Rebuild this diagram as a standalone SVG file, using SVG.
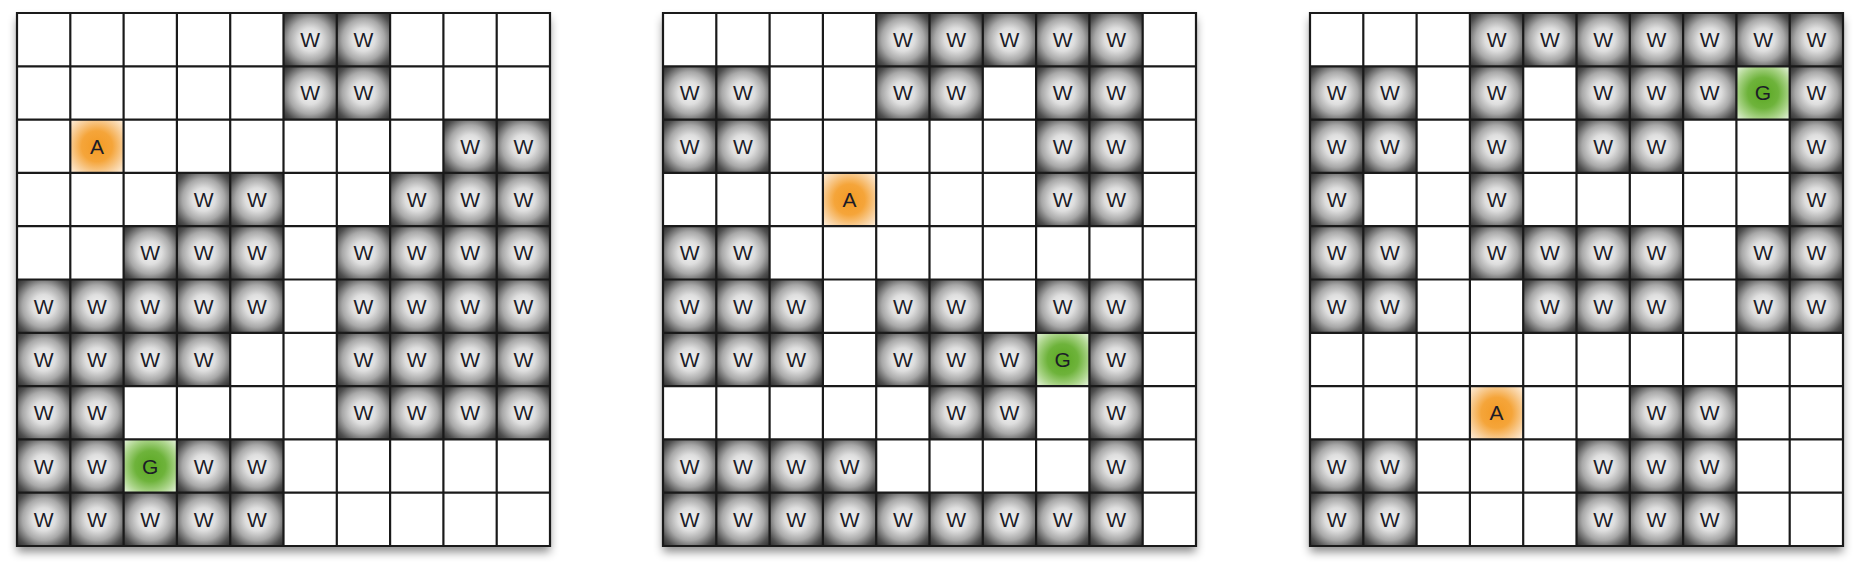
<svg xmlns="http://www.w3.org/2000/svg" width="1865" height="574" viewBox="0 0 1865 574">
<defs>
<radialGradient id="gw" cx="50%" cy="50%" r="72%">
<stop offset="0" stop-color="#f6f6f6"/>
<stop offset="0.3" stop-color="#dedede"/>
<stop offset="0.55" stop-color="#a8a8a8"/>
<stop offset="0.8" stop-color="#505050"/>
<stop offset="1" stop-color="#262626"/>
</radialGradient>
<radialGradient id="ga" cx="50%" cy="50%" r="72%">
<stop offset="0" stop-color="#f39a24"/>
<stop offset="0.4" stop-color="#f5a53a"/>
<stop offset="0.7" stop-color="#f8cd96"/>
<stop offset="1" stop-color="#fff4e8"/>
</radialGradient>
<radialGradient id="gg" cx="50%" cy="50%" r="72%">
<stop offset="0" stop-color="#5ba822"/>
<stop offset="0.4" stop-color="#6eb33b"/>
<stop offset="0.7" stop-color="#acd58b"/>
<stop offset="1" stop-color="#eef7e8"/>
</radialGradient>
<filter id="sh" x="-10%" y="-10%" width="120%" height="125%">
<feDropShadow dx="0" dy="6" stdDeviation="5" flood-color="#000" flood-opacity="0.45"/>
</filter>
<path id="lines" d="M0 0V533M53.3 0V533M106.6 0V533M159.9 0V533M213.2 0V533M266.5 0V533M319.8 0V533M373.1 0V533M426.4 0V533M479.7 0V533M533 0V533M0 0H533M0 53.3H533M0 106.6H533M0 159.9H533M0 213.2H533M0 266.5H533M0 319.8H533M0 373.1H533M0 426.4H533M0 479.7H533M0 533H533"/>
</defs>
<style>
.bg{fill:#fff;filter:url(#sh)}
.w rect{fill:url(#gw)}
.a rect{fill:url(#ga)}
.g rect{fill:url(#gg)}
.c text{font-family:"Liberation Sans",Arial,sans-serif;font-size:21px;fill:#1c1c28;text-anchor:middle}
.grid{fill:none;stroke:#1a1a1a;stroke-width:2.2;stroke-linecap:square}
</style>

<g id="grid1" transform="translate(17 13)">
<rect class="bg" width="533" height="533"/>
<g id="g1-r0c5" class="c w" transform="translate(266.5 0)"><rect width="53.3" height="53.3"/><text x="26.65" y="34.2">W</text></g>
<g id="g1-r0c6" class="c w" transform="translate(319.8 0)"><rect width="53.3" height="53.3"/><text x="26.65" y="34.2">W</text></g>
<g id="g1-r1c5" class="c w" transform="translate(266.5 53.3)"><rect width="53.3" height="53.3"/><text x="26.65" y="34.2">W</text></g>
<g id="g1-r1c6" class="c w" transform="translate(319.8 53.3)"><rect width="53.3" height="53.3"/><text x="26.65" y="34.2">W</text></g>
<g id="g1-agent" class="c a" transform="translate(53.3 106.6)"><rect width="53.3" height="53.3"/><text x="26.65" y="34.2">A</text></g>
<g id="g1-r2c8" class="c w" transform="translate(426.4 106.6)"><rect width="53.3" height="53.3"/><text x="26.65" y="34.2">W</text></g>
<g id="g1-r2c9" class="c w" transform="translate(479.7 106.6)"><rect width="53.3" height="53.3"/><text x="26.65" y="34.2">W</text></g>
<g id="g1-r3c3" class="c w" transform="translate(159.9 159.9)"><rect width="53.3" height="53.3"/><text x="26.65" y="34.2">W</text></g>
<g id="g1-r3c4" class="c w" transform="translate(213.2 159.9)"><rect width="53.3" height="53.3"/><text x="26.65" y="34.2">W</text></g>
<g id="g1-r3c7" class="c w" transform="translate(373.1 159.9)"><rect width="53.3" height="53.3"/><text x="26.65" y="34.2">W</text></g>
<g id="g1-r3c8" class="c w" transform="translate(426.4 159.9)"><rect width="53.3" height="53.3"/><text x="26.65" y="34.2">W</text></g>
<g id="g1-r3c9" class="c w" transform="translate(479.7 159.9)"><rect width="53.3" height="53.3"/><text x="26.65" y="34.2">W</text></g>
<g id="g1-r4c2" class="c w" transform="translate(106.6 213.2)"><rect width="53.3" height="53.3"/><text x="26.65" y="34.2">W</text></g>
<g id="g1-r4c3" class="c w" transform="translate(159.9 213.2)"><rect width="53.3" height="53.3"/><text x="26.65" y="34.2">W</text></g>
<g id="g1-r4c4" class="c w" transform="translate(213.2 213.2)"><rect width="53.3" height="53.3"/><text x="26.65" y="34.2">W</text></g>
<g id="g1-r4c6" class="c w" transform="translate(319.8 213.2)"><rect width="53.3" height="53.3"/><text x="26.65" y="34.2">W</text></g>
<g id="g1-r4c7" class="c w" transform="translate(373.1 213.2)"><rect width="53.3" height="53.3"/><text x="26.65" y="34.2">W</text></g>
<g id="g1-r4c8" class="c w" transform="translate(426.4 213.2)"><rect width="53.3" height="53.3"/><text x="26.65" y="34.2">W</text></g>
<g id="g1-r4c9" class="c w" transform="translate(479.7 213.2)"><rect width="53.3" height="53.3"/><text x="26.65" y="34.2">W</text></g>
<g id="g1-r5c0" class="c w" transform="translate(0 266.5)"><rect width="53.3" height="53.3"/><text x="26.65" y="34.2">W</text></g>
<g id="g1-r5c1" class="c w" transform="translate(53.3 266.5)"><rect width="53.3" height="53.3"/><text x="26.65" y="34.2">W</text></g>
<g id="g1-r5c2" class="c w" transform="translate(106.6 266.5)"><rect width="53.3" height="53.3"/><text x="26.65" y="34.2">W</text></g>
<g id="g1-r5c3" class="c w" transform="translate(159.9 266.5)"><rect width="53.3" height="53.3"/><text x="26.65" y="34.2">W</text></g>
<g id="g1-r5c4" class="c w" transform="translate(213.2 266.5)"><rect width="53.3" height="53.3"/><text x="26.65" y="34.2">W</text></g>
<g id="g1-r5c6" class="c w" transform="translate(319.8 266.5)"><rect width="53.3" height="53.3"/><text x="26.65" y="34.2">W</text></g>
<g id="g1-r5c7" class="c w" transform="translate(373.1 266.5)"><rect width="53.3" height="53.3"/><text x="26.65" y="34.2">W</text></g>
<g id="g1-r5c8" class="c w" transform="translate(426.4 266.5)"><rect width="53.3" height="53.3"/><text x="26.65" y="34.2">W</text></g>
<g id="g1-r5c9" class="c w" transform="translate(479.7 266.5)"><rect width="53.3" height="53.3"/><text x="26.65" y="34.2">W</text></g>
<g id="g1-r6c0" class="c w" transform="translate(0 319.8)"><rect width="53.3" height="53.3"/><text x="26.65" y="34.2">W</text></g>
<g id="g1-r6c1" class="c w" transform="translate(53.3 319.8)"><rect width="53.3" height="53.3"/><text x="26.65" y="34.2">W</text></g>
<g id="g1-r6c2" class="c w" transform="translate(106.6 319.8)"><rect width="53.3" height="53.3"/><text x="26.65" y="34.2">W</text></g>
<g id="g1-r6c3" class="c w" transform="translate(159.9 319.8)"><rect width="53.3" height="53.3"/><text x="26.65" y="34.2">W</text></g>
<g id="g1-r6c6" class="c w" transform="translate(319.8 319.8)"><rect width="53.3" height="53.3"/><text x="26.65" y="34.2">W</text></g>
<g id="g1-r6c7" class="c w" transform="translate(373.1 319.8)"><rect width="53.3" height="53.3"/><text x="26.65" y="34.2">W</text></g>
<g id="g1-r6c8" class="c w" transform="translate(426.4 319.8)"><rect width="53.3" height="53.3"/><text x="26.65" y="34.2">W</text></g>
<g id="g1-r6c9" class="c w" transform="translate(479.7 319.8)"><rect width="53.3" height="53.3"/><text x="26.65" y="34.2">W</text></g>
<g id="g1-r7c0" class="c w" transform="translate(0 373.1)"><rect width="53.3" height="53.3"/><text x="26.65" y="34.2">W</text></g>
<g id="g1-r7c1" class="c w" transform="translate(53.3 373.1)"><rect width="53.3" height="53.3"/><text x="26.65" y="34.2">W</text></g>
<g id="g1-r7c6" class="c w" transform="translate(319.8 373.1)"><rect width="53.3" height="53.3"/><text x="26.65" y="34.2">W</text></g>
<g id="g1-r7c7" class="c w" transform="translate(373.1 373.1)"><rect width="53.3" height="53.3"/><text x="26.65" y="34.2">W</text></g>
<g id="g1-r7c8" class="c w" transform="translate(426.4 373.1)"><rect width="53.3" height="53.3"/><text x="26.65" y="34.2">W</text></g>
<g id="g1-r7c9" class="c w" transform="translate(479.7 373.1)"><rect width="53.3" height="53.3"/><text x="26.65" y="34.2">W</text></g>
<g id="g1-r8c0" class="c w" transform="translate(0 426.4)"><rect width="53.3" height="53.3"/><text x="26.65" y="34.2">W</text></g>
<g id="g1-r8c1" class="c w" transform="translate(53.3 426.4)"><rect width="53.3" height="53.3"/><text x="26.65" y="34.2">W</text></g>
<g id="g1-goal" class="c g" transform="translate(106.6 426.4)"><rect width="53.3" height="53.3"/><text x="26.65" y="34.2">G</text></g>
<g id="g1-r8c3" class="c w" transform="translate(159.9 426.4)"><rect width="53.3" height="53.3"/><text x="26.65" y="34.2">W</text></g>
<g id="g1-r8c4" class="c w" transform="translate(213.2 426.4)"><rect width="53.3" height="53.3"/><text x="26.65" y="34.2">W</text></g>
<g id="g1-r9c0" class="c w" transform="translate(0 479.7)"><rect width="53.3" height="53.3"/><text x="26.65" y="34.2">W</text></g>
<g id="g1-r9c1" class="c w" transform="translate(53.3 479.7)"><rect width="53.3" height="53.3"/><text x="26.65" y="34.2">W</text></g>
<g id="g1-r9c2" class="c w" transform="translate(106.6 479.7)"><rect width="53.3" height="53.3"/><text x="26.65" y="34.2">W</text></g>
<g id="g1-r9c3" class="c w" transform="translate(159.9 479.7)"><rect width="53.3" height="53.3"/><text x="26.65" y="34.2">W</text></g>
<g id="g1-r9c4" class="c w" transform="translate(213.2 479.7)"><rect width="53.3" height="53.3"/><text x="26.65" y="34.2">W</text></g>
<use href="#lines" class="grid"/>
</g>

<g id="grid2" transform="translate(663 13)">
<rect class="bg" width="533" height="533"/>
<g id="g2-r0c4" class="c w" transform="translate(213.2 0)"><rect width="53.3" height="53.3"/><text x="26.65" y="34.2">W</text></g>
<g id="g2-r0c5" class="c w" transform="translate(266.5 0)"><rect width="53.3" height="53.3"/><text x="26.65" y="34.2">W</text></g>
<g id="g2-r0c6" class="c w" transform="translate(319.8 0)"><rect width="53.3" height="53.3"/><text x="26.65" y="34.2">W</text></g>
<g id="g2-r0c7" class="c w" transform="translate(373.1 0)"><rect width="53.3" height="53.3"/><text x="26.65" y="34.2">W</text></g>
<g id="g2-r0c8" class="c w" transform="translate(426.4 0)"><rect width="53.3" height="53.3"/><text x="26.65" y="34.2">W</text></g>
<g id="g2-r1c0" class="c w" transform="translate(0 53.3)"><rect width="53.3" height="53.3"/><text x="26.65" y="34.2">W</text></g>
<g id="g2-r1c1" class="c w" transform="translate(53.3 53.3)"><rect width="53.3" height="53.3"/><text x="26.65" y="34.2">W</text></g>
<g id="g2-r1c4" class="c w" transform="translate(213.2 53.3)"><rect width="53.3" height="53.3"/><text x="26.65" y="34.2">W</text></g>
<g id="g2-r1c5" class="c w" transform="translate(266.5 53.3)"><rect width="53.3" height="53.3"/><text x="26.65" y="34.2">W</text></g>
<g id="g2-r1c7" class="c w" transform="translate(373.1 53.3)"><rect width="53.3" height="53.3"/><text x="26.65" y="34.2">W</text></g>
<g id="g2-r1c8" class="c w" transform="translate(426.4 53.3)"><rect width="53.3" height="53.3"/><text x="26.65" y="34.2">W</text></g>
<g id="g2-r2c0" class="c w" transform="translate(0 106.6)"><rect width="53.3" height="53.3"/><text x="26.65" y="34.2">W</text></g>
<g id="g2-r2c1" class="c w" transform="translate(53.3 106.6)"><rect width="53.3" height="53.3"/><text x="26.65" y="34.2">W</text></g>
<g id="g2-r2c7" class="c w" transform="translate(373.1 106.6)"><rect width="53.3" height="53.3"/><text x="26.65" y="34.2">W</text></g>
<g id="g2-r2c8" class="c w" transform="translate(426.4 106.6)"><rect width="53.3" height="53.3"/><text x="26.65" y="34.2">W</text></g>
<g id="g2-agent" class="c a" transform="translate(159.9 159.9)"><rect width="53.3" height="53.3"/><text x="26.65" y="34.2">A</text></g>
<g id="g2-r3c7" class="c w" transform="translate(373.1 159.9)"><rect width="53.3" height="53.3"/><text x="26.65" y="34.2">W</text></g>
<g id="g2-r3c8" class="c w" transform="translate(426.4 159.9)"><rect width="53.3" height="53.3"/><text x="26.65" y="34.2">W</text></g>
<g id="g2-r4c0" class="c w" transform="translate(0 213.2)"><rect width="53.3" height="53.3"/><text x="26.65" y="34.2">W</text></g>
<g id="g2-r4c1" class="c w" transform="translate(53.3 213.2)"><rect width="53.3" height="53.3"/><text x="26.65" y="34.2">W</text></g>
<g id="g2-r5c0" class="c w" transform="translate(0 266.5)"><rect width="53.3" height="53.3"/><text x="26.65" y="34.2">W</text></g>
<g id="g2-r5c1" class="c w" transform="translate(53.3 266.5)"><rect width="53.3" height="53.3"/><text x="26.65" y="34.2">W</text></g>
<g id="g2-r5c2" class="c w" transform="translate(106.6 266.5)"><rect width="53.3" height="53.3"/><text x="26.65" y="34.2">W</text></g>
<g id="g2-r5c4" class="c w" transform="translate(213.2 266.5)"><rect width="53.3" height="53.3"/><text x="26.65" y="34.2">W</text></g>
<g id="g2-r5c5" class="c w" transform="translate(266.5 266.5)"><rect width="53.3" height="53.3"/><text x="26.65" y="34.2">W</text></g>
<g id="g2-r5c7" class="c w" transform="translate(373.1 266.5)"><rect width="53.3" height="53.3"/><text x="26.65" y="34.2">W</text></g>
<g id="g2-r5c8" class="c w" transform="translate(426.4 266.5)"><rect width="53.3" height="53.3"/><text x="26.65" y="34.2">W</text></g>
<g id="g2-r6c0" class="c w" transform="translate(0 319.8)"><rect width="53.3" height="53.3"/><text x="26.65" y="34.2">W</text></g>
<g id="g2-r6c1" class="c w" transform="translate(53.3 319.8)"><rect width="53.3" height="53.3"/><text x="26.65" y="34.2">W</text></g>
<g id="g2-r6c2" class="c w" transform="translate(106.6 319.8)"><rect width="53.3" height="53.3"/><text x="26.65" y="34.2">W</text></g>
<g id="g2-r6c4" class="c w" transform="translate(213.2 319.8)"><rect width="53.3" height="53.3"/><text x="26.65" y="34.2">W</text></g>
<g id="g2-r6c5" class="c w" transform="translate(266.5 319.8)"><rect width="53.3" height="53.3"/><text x="26.65" y="34.2">W</text></g>
<g id="g2-r6c6" class="c w" transform="translate(319.8 319.8)"><rect width="53.3" height="53.3"/><text x="26.65" y="34.2">W</text></g>
<g id="g2-goal" class="c g" transform="translate(373.1 319.8)"><rect width="53.3" height="53.3"/><text x="26.65" y="34.2">G</text></g>
<g id="g2-r6c8" class="c w" transform="translate(426.4 319.8)"><rect width="53.3" height="53.3"/><text x="26.65" y="34.2">W</text></g>
<g id="g2-r7c5" class="c w" transform="translate(266.5 373.1)"><rect width="53.3" height="53.3"/><text x="26.65" y="34.2">W</text></g>
<g id="g2-r7c6" class="c w" transform="translate(319.8 373.1)"><rect width="53.3" height="53.3"/><text x="26.65" y="34.2">W</text></g>
<g id="g2-r7c8" class="c w" transform="translate(426.4 373.1)"><rect width="53.3" height="53.3"/><text x="26.65" y="34.2">W</text></g>
<g id="g2-r8c0" class="c w" transform="translate(0 426.4)"><rect width="53.3" height="53.3"/><text x="26.65" y="34.2">W</text></g>
<g id="g2-r8c1" class="c w" transform="translate(53.3 426.4)"><rect width="53.3" height="53.3"/><text x="26.65" y="34.2">W</text></g>
<g id="g2-r8c2" class="c w" transform="translate(106.6 426.4)"><rect width="53.3" height="53.3"/><text x="26.65" y="34.2">W</text></g>
<g id="g2-r8c3" class="c w" transform="translate(159.9 426.4)"><rect width="53.3" height="53.3"/><text x="26.65" y="34.2">W</text></g>
<g id="g2-r8c8" class="c w" transform="translate(426.4 426.4)"><rect width="53.3" height="53.3"/><text x="26.65" y="34.2">W</text></g>
<g id="g2-r9c0" class="c w" transform="translate(0 479.7)"><rect width="53.3" height="53.3"/><text x="26.65" y="34.2">W</text></g>
<g id="g2-r9c1" class="c w" transform="translate(53.3 479.7)"><rect width="53.3" height="53.3"/><text x="26.65" y="34.2">W</text></g>
<g id="g2-r9c2" class="c w" transform="translate(106.6 479.7)"><rect width="53.3" height="53.3"/><text x="26.65" y="34.2">W</text></g>
<g id="g2-r9c3" class="c w" transform="translate(159.9 479.7)"><rect width="53.3" height="53.3"/><text x="26.65" y="34.2">W</text></g>
<g id="g2-r9c4" class="c w" transform="translate(213.2 479.7)"><rect width="53.3" height="53.3"/><text x="26.65" y="34.2">W</text></g>
<g id="g2-r9c5" class="c w" transform="translate(266.5 479.7)"><rect width="53.3" height="53.3"/><text x="26.65" y="34.2">W</text></g>
<g id="g2-r9c6" class="c w" transform="translate(319.8 479.7)"><rect width="53.3" height="53.3"/><text x="26.65" y="34.2">W</text></g>
<g id="g2-r9c7" class="c w" transform="translate(373.1 479.7)"><rect width="53.3" height="53.3"/><text x="26.65" y="34.2">W</text></g>
<g id="g2-r9c8" class="c w" transform="translate(426.4 479.7)"><rect width="53.3" height="53.3"/><text x="26.65" y="34.2">W</text></g>
<use href="#lines" class="grid"/>
</g>

<g id="grid3" transform="translate(1310 13)">
<rect class="bg" width="533" height="533"/>
<g id="g3-r0c3" class="c w" transform="translate(159.9 0)"><rect width="53.3" height="53.3"/><text x="26.65" y="34.2">W</text></g>
<g id="g3-r0c4" class="c w" transform="translate(213.2 0)"><rect width="53.3" height="53.3"/><text x="26.65" y="34.2">W</text></g>
<g id="g3-r0c5" class="c w" transform="translate(266.5 0)"><rect width="53.3" height="53.3"/><text x="26.65" y="34.2">W</text></g>
<g id="g3-r0c6" class="c w" transform="translate(319.8 0)"><rect width="53.3" height="53.3"/><text x="26.65" y="34.2">W</text></g>
<g id="g3-r0c7" class="c w" transform="translate(373.1 0)"><rect width="53.3" height="53.3"/><text x="26.65" y="34.2">W</text></g>
<g id="g3-r0c8" class="c w" transform="translate(426.4 0)"><rect width="53.3" height="53.3"/><text x="26.65" y="34.2">W</text></g>
<g id="g3-r0c9" class="c w" transform="translate(479.7 0)"><rect width="53.3" height="53.3"/><text x="26.65" y="34.2">W</text></g>
<g id="g3-r1c0" class="c w" transform="translate(0 53.3)"><rect width="53.3" height="53.3"/><text x="26.65" y="34.2">W</text></g>
<g id="g3-r1c1" class="c w" transform="translate(53.3 53.3)"><rect width="53.3" height="53.3"/><text x="26.65" y="34.2">W</text></g>
<g id="g3-r1c3" class="c w" transform="translate(159.9 53.3)"><rect width="53.3" height="53.3"/><text x="26.65" y="34.2">W</text></g>
<g id="g3-r1c5" class="c w" transform="translate(266.5 53.3)"><rect width="53.3" height="53.3"/><text x="26.65" y="34.2">W</text></g>
<g id="g3-r1c6" class="c w" transform="translate(319.8 53.3)"><rect width="53.3" height="53.3"/><text x="26.65" y="34.2">W</text></g>
<g id="g3-r1c7" class="c w" transform="translate(373.1 53.3)"><rect width="53.3" height="53.3"/><text x="26.65" y="34.2">W</text></g>
<g id="g3-goal" class="c g" transform="translate(426.4 53.3)"><rect width="53.3" height="53.3"/><text x="26.65" y="34.2">G</text></g>
<g id="g3-r1c9" class="c w" transform="translate(479.7 53.3)"><rect width="53.3" height="53.3"/><text x="26.65" y="34.2">W</text></g>
<g id="g3-r2c0" class="c w" transform="translate(0 106.6)"><rect width="53.3" height="53.3"/><text x="26.65" y="34.2">W</text></g>
<g id="g3-r2c1" class="c w" transform="translate(53.3 106.6)"><rect width="53.3" height="53.3"/><text x="26.65" y="34.2">W</text></g>
<g id="g3-r2c3" class="c w" transform="translate(159.9 106.6)"><rect width="53.3" height="53.3"/><text x="26.65" y="34.2">W</text></g>
<g id="g3-r2c5" class="c w" transform="translate(266.5 106.6)"><rect width="53.3" height="53.3"/><text x="26.65" y="34.2">W</text></g>
<g id="g3-r2c6" class="c w" transform="translate(319.8 106.6)"><rect width="53.3" height="53.3"/><text x="26.65" y="34.2">W</text></g>
<g id="g3-r2c9" class="c w" transform="translate(479.7 106.6)"><rect width="53.3" height="53.3"/><text x="26.65" y="34.2">W</text></g>
<g id="g3-r3c0" class="c w" transform="translate(0 159.9)"><rect width="53.3" height="53.3"/><text x="26.65" y="34.2">W</text></g>
<g id="g3-r3c3" class="c w" transform="translate(159.9 159.9)"><rect width="53.3" height="53.3"/><text x="26.65" y="34.2">W</text></g>
<g id="g3-r3c9" class="c w" transform="translate(479.7 159.9)"><rect width="53.3" height="53.3"/><text x="26.65" y="34.2">W</text></g>
<g id="g3-r4c0" class="c w" transform="translate(0 213.2)"><rect width="53.3" height="53.3"/><text x="26.65" y="34.2">W</text></g>
<g id="g3-r4c1" class="c w" transform="translate(53.3 213.2)"><rect width="53.3" height="53.3"/><text x="26.65" y="34.2">W</text></g>
<g id="g3-r4c3" class="c w" transform="translate(159.9 213.2)"><rect width="53.3" height="53.3"/><text x="26.65" y="34.2">W</text></g>
<g id="g3-r4c4" class="c w" transform="translate(213.2 213.2)"><rect width="53.3" height="53.3"/><text x="26.65" y="34.2">W</text></g>
<g id="g3-r4c5" class="c w" transform="translate(266.5 213.2)"><rect width="53.3" height="53.3"/><text x="26.65" y="34.2">W</text></g>
<g id="g3-r4c6" class="c w" transform="translate(319.8 213.2)"><rect width="53.3" height="53.3"/><text x="26.65" y="34.2">W</text></g>
<g id="g3-r4c8" class="c w" transform="translate(426.4 213.2)"><rect width="53.3" height="53.3"/><text x="26.65" y="34.2">W</text></g>
<g id="g3-r4c9" class="c w" transform="translate(479.7 213.2)"><rect width="53.3" height="53.3"/><text x="26.65" y="34.2">W</text></g>
<g id="g3-r5c0" class="c w" transform="translate(0 266.5)"><rect width="53.3" height="53.3"/><text x="26.65" y="34.2">W</text></g>
<g id="g3-r5c1" class="c w" transform="translate(53.3 266.5)"><rect width="53.3" height="53.3"/><text x="26.65" y="34.2">W</text></g>
<g id="g3-r5c4" class="c w" transform="translate(213.2 266.5)"><rect width="53.3" height="53.3"/><text x="26.65" y="34.2">W</text></g>
<g id="g3-r5c5" class="c w" transform="translate(266.5 266.5)"><rect width="53.3" height="53.3"/><text x="26.65" y="34.2">W</text></g>
<g id="g3-r5c6" class="c w" transform="translate(319.8 266.5)"><rect width="53.3" height="53.3"/><text x="26.65" y="34.2">W</text></g>
<g id="g3-r5c8" class="c w" transform="translate(426.4 266.5)"><rect width="53.3" height="53.3"/><text x="26.65" y="34.2">W</text></g>
<g id="g3-r5c9" class="c w" transform="translate(479.7 266.5)"><rect width="53.3" height="53.3"/><text x="26.65" y="34.2">W</text></g>
<g id="g3-agent" class="c a" transform="translate(159.9 373.1)"><rect width="53.3" height="53.3"/><text x="26.65" y="34.2">A</text></g>
<g id="g3-r7c6" class="c w" transform="translate(319.8 373.1)"><rect width="53.3" height="53.3"/><text x="26.65" y="34.2">W</text></g>
<g id="g3-r7c7" class="c w" transform="translate(373.1 373.1)"><rect width="53.3" height="53.3"/><text x="26.65" y="34.2">W</text></g>
<g id="g3-r8c0" class="c w" transform="translate(0 426.4)"><rect width="53.3" height="53.3"/><text x="26.65" y="34.2">W</text></g>
<g id="g3-r8c1" class="c w" transform="translate(53.3 426.4)"><rect width="53.3" height="53.3"/><text x="26.65" y="34.2">W</text></g>
<g id="g3-r8c5" class="c w" transform="translate(266.5 426.4)"><rect width="53.3" height="53.3"/><text x="26.65" y="34.2">W</text></g>
<g id="g3-r8c6" class="c w" transform="translate(319.8 426.4)"><rect width="53.3" height="53.3"/><text x="26.65" y="34.2">W</text></g>
<g id="g3-r8c7" class="c w" transform="translate(373.1 426.4)"><rect width="53.3" height="53.3"/><text x="26.65" y="34.2">W</text></g>
<g id="g3-r9c0" class="c w" transform="translate(0 479.7)"><rect width="53.3" height="53.3"/><text x="26.65" y="34.2">W</text></g>
<g id="g3-r9c1" class="c w" transform="translate(53.3 479.7)"><rect width="53.3" height="53.3"/><text x="26.65" y="34.2">W</text></g>
<g id="g3-r9c5" class="c w" transform="translate(266.5 479.7)"><rect width="53.3" height="53.3"/><text x="26.65" y="34.2">W</text></g>
<g id="g3-r9c6" class="c w" transform="translate(319.8 479.7)"><rect width="53.3" height="53.3"/><text x="26.65" y="34.2">W</text></g>
<g id="g3-r9c7" class="c w" transform="translate(373.1 479.7)"><rect width="53.3" height="53.3"/><text x="26.65" y="34.2">W</text></g>
<use href="#lines" class="grid"/>
</g>
</svg>
